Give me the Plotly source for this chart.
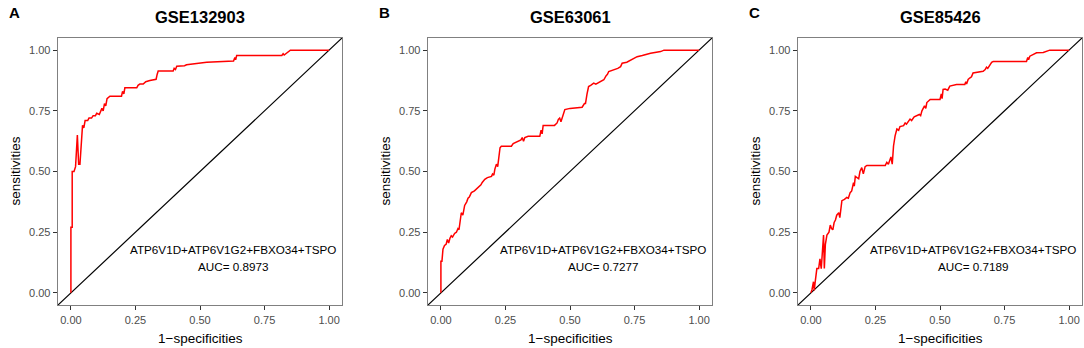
import plotly.graph_objects as go

TITLES = ["GSE132903", "GSE63061", "GSE85426"]
LETTERS = ["A", "B", "C"]
AUC = ["0.8973", "0.7277", "0.7189"]
MODEL = "ATP6V1D+ATP6V1G2+FBXO34+TSPO"
TICKS = [0, 0.25, 0.5, 0.75, 1.0]
DIAG = [-0.05, 1.05]

A_FPR = [0, 0, 0.005, 0.005, 0.012, 0.018, 0.025, 0.03, 0.035, 0.042, 0.045, 0.05, 0.055, 0.065,
         0.07, 0.08, 0.086, 0.095, 0.1, 0.11, 0.115, 0.12, 0.125, 0.13, 0.135, 0.14, 0.151, 0.196,
         0.2, 0.205, 0.209, 0.255, 0.26, 0.267, 0.28, 0.29, 0.306, 0.33, 0.334, 0.338, 0.396, 0.4,
         0.405, 0.41, 0.44, 0.448, 0.526, 0.63, 0.635, 0.638, 0.642, 0.817, 0.822, 0.826, 0.85, 1.0]
A_TPR = [0, 0.27, 0.27, 0.5, 0.5, 0.52, 0.65, 0.53, 0.53, 0.66, 0.69, 0.68, 0.71, 0.71,
         0.72, 0.72, 0.73, 0.73, 0.74, 0.735, 0.75, 0.76, 0.75, 0.78, 0.77, 0.8, 0.81, 0.81,
         0.83, 0.82, 0.845, 0.845, 0.855, 0.86, 0.86, 0.87, 0.875, 0.88, 0.9, 0.914, 0.914, 0.925,
         0.92, 0.934, 0.936, 0.94, 0.95, 0.955, 0.97, 0.96, 0.978, 0.978, 0.985, 0.98, 1.0, 1.0]

B_FPR = [0, 0, 0.004, 0.008, 0.014, 0.02, 0.025, 0.03, 0.035, 0.04, 0.045, 0.053, 0.06, 0.066,
         0.07, 0.075, 0.079, 0.085, 0.092, 0.1, 0.105, 0.11, 0.118, 0.13, 0.144, 0.155, 0.16, 0.17,
         0.18, 0.196, 0.2, 0.205, 0.209, 0.215, 0.22, 0.225, 0.229, 0.234, 0.273, 0.28, 0.29, 0.31,
         0.315, 0.32, 0.325, 0.338, 0.383, 0.388, 0.392, 0.396, 0.44, 0.45, 0.455, 0.46, 0.465,
         0.475, 0.48, 0.5, 0.547, 0.556, 0.56, 0.566, 0.572, 0.58, 0.592, 0.6, 0.615, 0.631, 0.64,
         0.645, 0.65, 0.67, 0.685, 0.696, 0.702, 0.72, 0.735, 0.76, 0.78, 0.812, 0.851, 0.864, 1.0]
B_TPR = [0, 0.13, 0.13, 0.18, 0.195, 0.2, 0.22, 0.205, 0.225, 0.235, 0.23, 0.245, 0.25, 0.265,
         0.26, 0.3, 0.33, 0.32, 0.36, 0.375, 0.39, 0.395, 0.413, 0.42, 0.433, 0.445, 0.455, 0.468,
         0.475, 0.48, 0.49, 0.485, 0.51, 0.53, 0.52, 0.57, 0.598, 0.604, 0.604, 0.615, 0.62, 0.63,
         0.64, 0.625, 0.64, 0.645, 0.645, 0.67, 0.655, 0.69, 0.69, 0.7, 0.715, 0.72, 0.705,
         0.74, 0.755, 0.76, 0.765, 0.78, 0.78, 0.82, 0.85, 0.855, 0.864, 0.86, 0.87, 0.878, 0.895,
         0.9, 0.912, 0.919, 0.925, 0.932, 0.946, 0.95, 0.96, 0.973, 0.978, 0.987, 0.994, 1.0, 1.0]

C_FPR = [0, 0.004, 0.01, 0.013, 0.016, 0.023, 0.03, 0.035, 0.04, 0.045, 0.049, 0.052, 0.056,
         0.062, 0.07, 0.075, 0.08, 0.085, 0.09, 0.095, 0.1, 0.108, 0.112, 0.12, 0.13, 0.139, 0.145,
         0.152, 0.158, 0.165, 0.168, 0.172, 0.18, 0.185, 0.19, 0.197, 0.203, 0.21, 0.217, 0.288,
         0.294, 0.3, 0.31, 0.315, 0.32, 0.326, 0.333, 0.34, 0.345, 0.359, 0.365, 0.37, 0.384, 0.39,
         0.4, 0.41, 0.42, 0.425, 0.43, 0.44, 0.445, 0.449, 0.462, 0.5, 0.505, 0.508, 0.512, 0.52,
         0.53, 0.538, 0.55, 0.564, 0.596, 0.6, 0.603, 0.609, 0.615, 0.622, 0.628, 0.645, 0.667,
         0.675, 0.68, 0.685, 0.693, 0.7, 0.706, 0.835, 0.84, 0.843, 0.848, 0.86, 0.874, 0.9, 0.912,
         0.925, 1.0]
C_TPR = [0, 0.012, 0.046, 0.01, 0.04, 0.1, 0.1, 0.14, 0.1, 0.2, 0.238, 0.1, 0.2,
         0.238, 0.25, 0.279, 0.265, 0.26, 0.29, 0.3, 0.32, 0.33, 0.31, 0.38, 0.385, 0.393, 0.39,
         0.413, 0.42, 0.454, 0.44, 0.48, 0.475, 0.47, 0.5, 0.516, 0.49, 0.52, 0.525, 0.525,
         0.538, 0.53, 0.56, 0.53, 0.605, 0.647, 0.675, 0.67, 0.685, 0.689, 0.7, 0.695, 0.716, 0.71,
         0.725, 0.73, 0.735, 0.73, 0.75, 0.77, 0.76, 0.784, 0.797, 0.797, 0.82, 0.8, 0.838, 0.84,
         0.835, 0.852, 0.855, 0.858, 0.858, 0.87, 0.86, 0.879, 0.885, 0.89, 0.906, 0.91, 0.913,
         0.92, 0.93, 0.925, 0.94, 0.95, 0.953, 0.953, 0.97, 0.96, 0.975, 0.98, 0.989, 0.99, 0.996,
         1.0, 1.0]

CURVES = [(A_FPR, A_TPR), (B_FPR, B_TPR), (C_FPR, C_TPR)]

W, H = 1084, 348
# panel frames in pixels (left, right), shared top/bottom
PANELS_PX = [(58, 342), (428, 712), (798, 1082)]
TOP_PX, BOT_PX = 38, 305
FONT = "Liberation Sans, Arial, sans-serif"

fig = go.Figure()
layout = dict(
    width=W, height=H, margin=dict(l=0, r=0, t=0, b=0),
    paper_bgcolor="white", plot_bgcolor="white", showlegend=False,
    font=dict(family=FONT, color="black"),
)
annotations = []
ydom = [1 - BOT_PX / H, 1 - TOP_PX / H]

for i, ((fpr, tpr), (lpx, rpx)) in enumerate(zip(CURVES, PANELS_PX)):
    n = "" if i == 0 else str(i + 1)
    xa, ya = "x" + n, "y" + n
    xdom = [lpx / W, rpx / W]
    axis_common = dict(
        range=[-0.05, 1.05], tickvals=TICKS, tickformat=".2f",
        ticks="outside", ticklen=4, tickwidth=1, tickcolor="#333333",
        tickfont=dict(size=11, color="#4d4d4d", family=FONT),
        showgrid=False, zeroline=False, showline=True, mirror=True,
        linecolor="#808080", linewidth=1.3,
    )
    layout["xaxis" + n] = dict(domain=xdom, anchor=ya, **axis_common)
    layout["yaxis" + n] = dict(domain=ydom, anchor=xa, **axis_common)

    fig.add_trace(go.Scatter(x=DIAG, y=DIAG, mode="lines", xaxis=xa, yaxis=ya,
                             line=dict(color="black", width=1.2)))
    fig.add_trace(go.Scatter(x=fpr, y=tpr, mode="lines", xaxis=xa, yaxis=ya,
                             line=dict(color="#ff0000", width=1.5)))

    cx = (lpx + rpx) / 2 / W
    annotations.append(dict(text="<b>" + TITLES[i] + "</b>", x=cx, y=1 - 17 / H,
                            xref="paper", yref="paper", showarrow=False,
                            font=dict(size=16.5, family=FONT), xanchor="center", yanchor="middle"))
    annotations.append(dict(text="<b>" + LETTERS[i] + "</b>", x=(lpx - 51) / W, y=1 - 12.5 / H,
                            xref="paper", yref="paper", showarrow=False,
                            font=dict(size=15, family=FONT), xanchor="left", yanchor="middle"))
    annotations.append(dict(text="1\u2212specificities", x=cx, y=1 - 338 / H,
                            xref="paper", yref="paper", showarrow=False,
                            font=dict(size=13.5, family=FONT), xanchor="center", yanchor="middle"))
    annotations.append(dict(text="sensitivities", x=(lpx - 43) / W, y=(ydom[0] + ydom[1]) / 2,
                            xref="paper", yref="paper", showarrow=False, textangle=-90,
                            font=dict(size=13.5, family=FONT), xanchor="center", yanchor="middle"))
    annotations.append(dict(text=MODEL, x=0.628, y=0.178, xref=xa, yref=ya, showarrow=False,
                            font=dict(size=11.7, family=FONT), xanchor="center", yanchor="middle"))
    annotations.append(dict(text="AUC= " + AUC[i], x=0.628, y=0.108, xref=xa, yref=ya,
                            showarrow=False, font=dict(size=11.7, family=FONT),
                            xanchor="center", yanchor="middle"))

layout["annotations"] = annotations
fig.update_layout(**layout)
fig.write_html("out.html", config={"displayModeBar": False, "staticPlot": True},
               post_script="document.body.style.margin='0';document.body.style.overflow='hidden';")
